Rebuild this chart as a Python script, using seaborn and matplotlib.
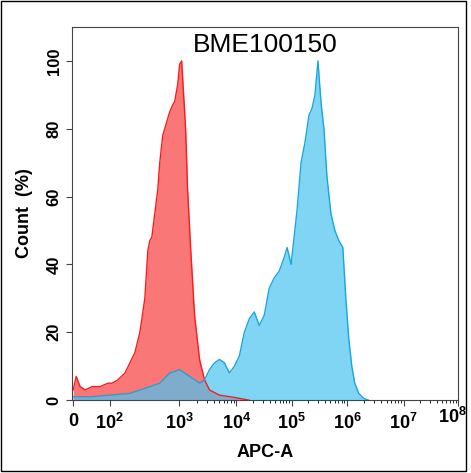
import matplotlib
matplotlib.use("Agg")
import matplotlib.pyplot as plt
import seaborn as sns
import numpy as np
import pandas as pd

# x positions are in axis units (decade-like display scale of the cytometer axis)
tick_pos = [0.0, 0.65, 1.89, 2.9, 3.89, 4.87, 5.88, 6.85]
tick_labels = ["0", "$10^2$", "$10^3$", "$10^4$", "$10^5$", "$10^6$", "$10^7$", "$10^8$"]

# (pixel columns converted below)
red_px = [73, 76, 80, 85, 92, 100, 108, 112, 118, 125, 130, 135, 140, 145, 148, 150,
          152, 155, 158, 160, 163, 165, 168, 170, 173, 175, 178, 180, 182, 184, 186,
          188, 191, 195, 200, 205, 210, 220, 235, 250]
red_y = [3, 7, 4, 3, 4, 4, 5, 5, 6, 8, 11, 14, 20, 30, 44, 47, 48, 55, 62, 70, 78, 80,
         83, 85, 87, 88, 93, 99, 100, 90, 80, 62, 45, 25, 12, 6, 3, 1.5, 0.8, 0]
blue_px = [73, 90, 110, 130, 150, 160, 170, 180, 190, 200, 205, 210, 215, 220, 225,
           230, 235, 240, 245, 250, 255, 260, 265, 270, 275, 280, 285, 288, 292, 295,
           298, 302, 306, 310, 313, 316, 319, 322, 325, 328, 332, 336, 340, 344, 347,
           350, 353, 356, 360, 365, 370]
blue_y = [1, 1, 1.5, 2, 4, 5, 8, 9, 7, 5, 6, 9, 11, 12, 11, 8, 10, 13, 20, 24, 26, 22,
          25, 33, 36, 38, 42, 45, 40, 48, 56, 70, 76, 84, 86, 90, 100, 88, 80, 66, 55,
          50, 47, 45, 30, 18, 10, 5, 2, 0.5, 0]

red_x = (np.array(red_px) - 73) / 56.5
blue_x = (np.array(blue_px) - 73) / 56.5
red = pd.DataFrame({"x": red_x, "y": red_y})
blue = pd.DataFrame({"x": blue_x, "y": blue_y})

sns.set_style("ticks")
plt.rcParams["font.family"] = ["Liberation Sans", "DejaVu Sans"]
plt.rcParams["mathtext.fontset"] = "custom"
plt.rcParams["mathtext.rm"] = "Liberation Sans:bold"
plt.rcParams["mathtext.it"] = "Liberation Sans:bold"
plt.rcParams["text.color"] = "black"
plt.rcParams["axes.labelcolor"] = "black"
plt.rcParams["xtick.color"] = "black"
plt.rcParams["ytick.color"] = "black"

fig = plt.figure(figsize=(4.71, 4.73), dpi=100)
ax = fig.add_axes([0.153, 0.154, 0.82, 0.789])

ax.fill_between(red["x"], red["y"], color="#f85555", alpha=0.8, lw=0)
sns.lineplot(data=red, x="x", y="y", color="#ff1a1a", lw=1, ax=ax)
ax.fill_between(blue["x"], blue["y"], color="#4cc4f0", alpha=0.7, lw=0)
sns.lineplot(data=blue, x="x", y="y", color="#14a8e0", lw=1, ax=ax)

ax.set_xlim(-0.02, 6.85)
ax.set_ylim(0, 110)
ax.set_xticks(tick_pos)
# last label drawn separately, nudged left so it stays inside the frame
ax.set_xticklabels(tick_labels[:-1] + [""], fontsize=13, fontweight="bold")
ax.text(tick_pos[-1] - 0.1, -0.018, tick_labels[-1], transform=ax.get_xaxis_transform(),
        ha="center", va="top", fontsize=13, fontweight="bold")
minor = []
for k in range(3, 8):
    for m in range(2, 10):
        minor.append(np.interp(np.log10(m * 10 ** k), [3, 4, 5, 6, 7, 8], tick_pos[2:]))
ax.set_xticks(minor, minor=True)
ax.set_yticks([0, 20, 40, 60, 80, 100])
ax.set_yticklabels(["0", "20", "40", "60", "80", "100"], fontsize=12,
                   fontweight="bold", rotation=90, va="center")
ax.tick_params(axis="both", direction="out", length=4, color="#444444")
ax.tick_params(axis="x", which="minor", length=2)
ax.tick_params(axis="x", pad=5)
ax.set_xlabel("APC-A", fontsize=13, fontweight="bold", labelpad=8)
ax.set_ylabel("Count  (%)", fontsize=13, fontweight="bold", labelpad=10)
for s in ax.spines.values():
    s.set_color("#444444")
ax.text(0.5, 0.985, "BME100150", transform=ax.transAxes, ha="center", va="top",
        fontsize=19)

fig.patches.append(plt.Rectangle((0.002, 0.004), 0.987, 0.993, transform=fig.transFigure,
                                 fill=False, ec="black", lw=1))
fig.savefig("out.png", dpi=100)
